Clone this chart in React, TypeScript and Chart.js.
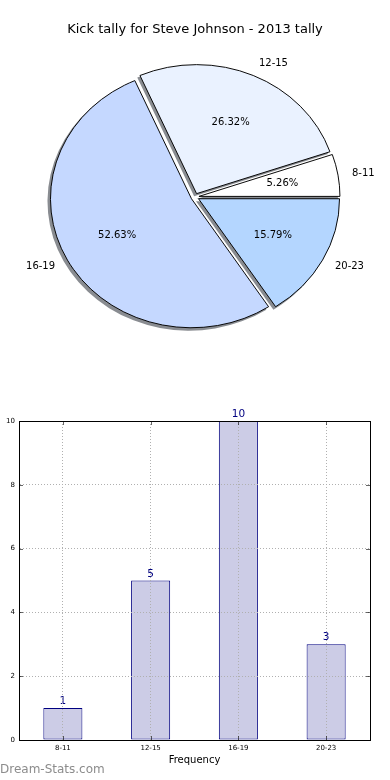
import React, { useEffect, useRef } from 'react';
import { Chart, registerables } from 'chart.js';

Chart.register(...registerables);

// ---------- data ----------
const chartTitle = 'Kick tally for Steve Johnson - 2013 tally';
const categories = ['8-11', '12-15', '16-19', '20-23'];
const kickCounts = [1, 5, 10, 3];
const sliceColors = ['#ffffff', '#eaf2ff', '#c5d8ff', '#b4d6ff'];
const yTickValues = [0, 2, 4, 6, 8, 10];
const xAxisTitle = 'Frequency';
const watermarkText = 'Dream-Stats.com';

// ---------- style ----------
const FONT = "'DejaVu Sans', Verdana, sans-serif";
const PIE_RADIUS = 141;
const SQUASH = 0.915;
const EXPLODE = 4;
const SHADOW_DX = -2.5;
const SHADOW_DY = 2.5;

const pieLabels = [...categories].reverse();
const pieValues = [...kickCounts].reverse();
const pieColors = [...sliceColors].reverse();

const pieEffects = {
  id: 'pieEffects',
  afterDatasetsUpdate(chart: any) {
    const meta = chart.getDatasetMeta(0);
    meta.data.forEach((arc: any) => {
      const mid = (arc.startAngle + arc.endAngle) / 2;
      arc.x += Math.cos(mid) * EXPLODE;
      arc.y += Math.sin(mid) * EXPLODE;
    });
  },
  beforeDatasetsDraw(chart: any) {
    const { ctx, chartArea } = chart;
    const cx = (chartArea.left + chartArea.right) / 2;
    const cy = (chartArea.top + chartArea.bottom) / 2;
    ctx.save();
    ctx.translate(cx, cy);
    ctx.scale(1, SQUASH);
    ctx.translate(-cx, -cy);
    const meta = chart.getDatasetMeta(0);
    ctx.save();
    ctx.translate(SHADOW_DX, SHADOW_DY / SQUASH);
    ctx.fillStyle = 'rgba(40,45,55,0.55)';
    meta.data.forEach((arc: any) => {
      ctx.beginPath();
      ctx.moveTo(arc.x, arc.y);
      ctx.arc(arc.x, arc.y, arc.outerRadius + 0.5, arc.startAngle, arc.endAngle);
      ctx.closePath();
      ctx.fill();
    });
    ctx.restore();
  },
  afterDatasetsDraw(chart: any) {
    chart.ctx.restore();
  },
  afterDraw(chart: any) {
    const { ctx, chartArea } = chart;
    const cy = (chartArea.top + chartArea.bottom) / 2;
    const meta = chart.getDatasetMeta(0);
    const total = pieValues.reduce((a, b) => a + b, 0);
    ctx.save();
    ctx.font = `10px ${FONT}`;
    ctx.fillStyle = '#000';
    ctx.textBaseline = 'middle';
    meta.data.forEach((arc: any, i: number) => {
      const mid = (arc.startAngle + arc.endAngle) / 2;
      const c = Math.cos(mid);
      const s = Math.sin(mid);
      const R = arc.outerRadius;
      const lx = arc.x + c * R * 1.1;
      const ly = cy + (arc.y + s * R * 1.1 - cy) * SQUASH;
      ctx.textAlign = c > 0 ? 'left' : 'right';
      ctx.fillText(pieLabels[i], lx, ly);
      const px = arc.x + c * R * 0.6;
      const py = cy + (arc.y + s * R * 0.6 - cy) * SQUASH;
      ctx.textAlign = 'center';
      ctx.fillText(((pieValues[i] / total) * 100).toFixed(2) + '%', px, py);
    });
    ctx.restore();
  },
};

const barExtras = {
  id: 'barExtras',
  afterDatasetsDraw(chart: any) {
    const { ctx } = chart;
    const meta = chart.getDatasetMeta(0);
    ctx.save();
    ctx.font = `10.5px ${FONT}`;
    ctx.fillStyle = '#000080';
    ctx.textAlign = 'center';
    ctx.textBaseline = 'alphabetic';
    meta.data.forEach((bar: any, i: number) => {
      ctx.fillText(String(kickCounts[i]), bar.x, bar.y - 4);
    });
    ctx.restore();
  },
  afterDraw(chart: any) {
    const { ctx, chartArea, scales } = chart;
    const { left, right, top, bottom } = chartArea;
    ctx.save();
    ctx.strokeStyle = 'rgba(0,0,0,0.6)';
    ctx.lineWidth = 1;
    ctx.beginPath();
    scales.y.ticks.forEach((_t: any, i: number) => {
      const y = Math.round(scales.y.getPixelForTick(i)) + 0.5;
      ctx.moveTo(left, y);
      ctx.lineTo(left + 4, y);
      ctx.moveTo(right, y);
      ctx.lineTo(right - 4, y);
    });
    scales.x.ticks.forEach((_t: any, i: number) => {
      const x = Math.round(scales.x.getPixelForTick(i)) + 0.5;
      ctx.moveTo(x, bottom);
      ctx.lineTo(x, bottom - 4);
      ctx.moveTo(x, top);
      ctx.lineTo(x, top + 4);
    });
    ctx.stroke();
    ctx.strokeStyle = '#000';
    ctx.strokeRect(Math.round(left) + 0.5, Math.round(top) + 0.5, Math.round(right - left), Math.round(bottom - top));
    ctx.restore();
  },
};

function makePieConfig(): any {
  return {
    type: 'pie',
    data: {
      labels: pieLabels,
      datasets: [
        {
          data: pieValues,
          backgroundColor: pieColors,
          borderColor: '#000',
          borderWidth: 1,
          borderJoinStyle: 'miter',
          radius: PIE_RADIUS,
          clip: false,
        },
      ],
    },
    options: {
      animation: false,
      responsive: false,
      events: [],
      rotation: 90,
      radius: PIE_RADIUS,
      layout: { padding: { top: 0, left: 0, right: 0, bottom: 43.6 } },
      plugins: {
        legend: { display: false },
        tooltip: { enabled: false },
        title: {
          display: true,
          text: chartTitle,
          color: '#000',
          font: { family: FONT, size: 13, weight: 'normal', lineHeight: 1.2 },
          padding: { top: 22, bottom: 0 },
        },
      },
    },
    plugins: [pieEffects],
  };
}

function makeBarConfig(): any {
  const borderCommon = { display: true, color: '#000', width: 1, dash: [1, 2], z: 2 };
  const gridColor = '#b0b0b0';
  return {
    type: 'bar',
    data: {
      labels: categories,
      datasets: [
        {
          data: kickCounts,
          backgroundColor: '#cccce6',
          borderColor: '#000080',
          borderWidth: 1,
          borderSkipped: false,
          barPercentage: 0.445,
          categoryPercentage: 1,
        },
      ],
    },
    options: {
      animation: false,
      responsive: false,
      events: [],
      layout: { padding: { left: 0, top: 21, right: 20, bottom: 0 } },
      plugins: {
        legend: { display: false },
        tooltip: { enabled: false },
        title: { display: false },
      },
      scales: {
        x: {
          type: 'category',
          offset: true,
          grid: { color: gridColor, lineWidth: 1, drawTicks: false, z: 1, offset: false },
          border: borderCommon,
          ticks: {
            color: '#000',
            font: { family: FONT, size: 7 },
            padding: 4,
            maxRotation: 0,
            autoSkip: false,
          },
          title: {
            display: true,
            text: xAxisTitle,
            color: '#000',
            font: { family: FONT, size: 10 },
            padding: { top: 0, bottom: 14 },
          },
          afterFit: (s: any) => {
            s.height = 40;
          },
        },
        y: {
          min: yTickValues[0],
          max: yTickValues[yTickValues.length - 1],
          grid: { color: gridColor, lineWidth: 1, drawTicks: false, z: 1 },
          border: borderCommon,
          ticks: {
            color: '#000',
            font: { family: FONT, size: 7 },
            padding: 4,
          },
          afterBuildTicks: (s: any) => {
            s.ticks = yTickValues.map((v) => ({ value: v }));
          },
          afterFit: (s: any) => {
            s.width = 19;
          },
        },
      },
    },
    plugins: [barExtras],
  };
}

export default function App() {
  const pieRef = useRef<HTMLCanvasElement>(null);
  const barRef = useRef<HTMLCanvasElement>(null);

  useEffect(() => {
    const pie = new Chart(pieRef.current as HTMLCanvasElement, makePieConfig());
    const bar = new Chart(barRef.current as HTMLCanvasElement, makeBarConfig());
    return () => {
      pie.destroy();
      bar.destroy();
    };
  }, []);

  return (
    <div
      style={{
        position: 'absolute',
        left: 0,
        top: 0,
        width: 390,
        height: 780,
        background: '#fff',
        overflow: 'hidden',
      }}
    >
      <canvas
        ref={pieRef}
        width={390}
        height={400}
        style={{ position: 'absolute', left: 0, top: 0, width: 390, height: 400 }}
      />
      <canvas
        ref={barRef}
        width={390}
        height={380}
        style={{ position: 'absolute', left: 0, top: 400, width: 390, height: 380 }}
      />
      <div
        style={{
          position: 'absolute',
          left: 0,
          top: 762,
          font: `12px ${FONT}`,
          lineHeight: '14px',
          color: '#8c8c8c',
          whiteSpace: 'nowrap',
        }}
      >
        {watermarkText}
      </div>
    </div>
  );
}
